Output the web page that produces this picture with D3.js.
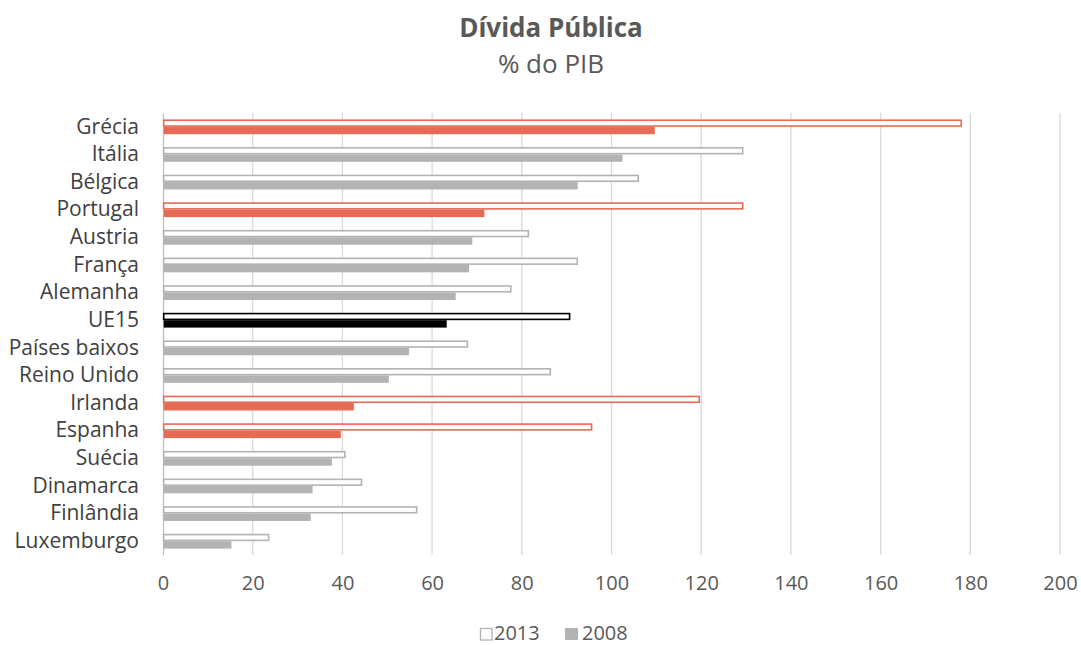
<!DOCTYPE html>
<html>
<head>
<meta charset="utf-8">
<script src="https://cdn.jsdelivr.net/npm/d3@7"></script>
<style>
  body { margin: 0; background: #fff; overflow: hidden; }
  svg { font-family: "Open Sans", "Noto Sans", sans-serif; display: block; }
</style>
</head>
<body>
<svg id="chart"></svg>
<script>
// dados
const paises = ["Grécia", "Itália", "Bélgica", "Portugal", "Austria", "França", "Alemanha", "UE15",
    "Países baixos", "Reino Unido", "Irlanda", "Espanha", "Suécia", "Dinamarca", "Finlândia", "Luxemburgo"];
const divida2013 = [177.8, 129.1, 105.8, 129.1, 81.3, 92.2, 77.4, 90.5, 67.7, 86.2, 119.4, 95.4, 40.4, 44.1, 56.4, 23.4];
const divida2008 = [109.5, 102.3, 92.3, 71.5, 68.8, 68.1, 65.1, 63.1, 54.7, 50.2, 42.4, 39.5, 37.5, 33.2, 32.8, 15.1];
const ticksX = [0, 20, 40, 60, 80, 100, 120, 140, 160, 180, 200];
const paisesCrise = ["Grécia", "Portugal", "Irlanda", "Espanha"];
const media = "UE15";
const series = ["2013", "2008"];

const W = 1081, H = 645;
const margin = { top: 113, right: 21, bottom: 90, left: 163 };
const width = W - margin.left - margin.right;
const height = H - margin.top - margin.bottom;

const svg = d3.select("#chart").attr("width", W).attr("height", H);

const cinza = "#b3b3b3";
const vermelho = "#e76a55";
function corDe(p) {
    if (paisesCrise.includes(p)) return vermelho;
    if (p === media) return "#000000";
    return cinza;
}

// título
svg.append("text")
    .attr("x", 551).attr("y", 37)
    .attr("text-anchor", "middle")
    .style("font-size", "26px").style("font-weight", "bold")
    .style("fill", "#595959")
    .text("Dívida Pública");
svg.append("text")
    .attr("x", 551).attr("y", 73)
    .attr("text-anchor", "middle")
    .style("font-size", "26px")
    .style("fill", "#595959")
    .text("% do PIB");

const chart = svg.append("g").attr("transform", `translate(${margin.left},${margin.top})`);

const x = d3.scaleLinear().domain([0, 200]).range([0, width]);
const y = d3.scaleBand().domain(paises).range([0, height]);
const barH = 7.4;
const y2 = d3.scaleBand().domain(series).range([y.bandwidth() / 2 - barH, y.bandwidth() / 2 + barH]);

// grelha
chart.append("g")
    .selectAll("line")
    .data(ticksX.slice(1))
    .join("line")
    .attr("x1", d => x(d)).attr("x2", d => x(d))
    .attr("y1", 0).attr("y2", height)
    .attr("stroke", "#d9d9d9").attr("stroke-width", 1.3);

// eixo x (só rótulos)
const eixoX = chart.append("g")
    .attr("transform", `translate(0,${height})`)
    .call(d3.axisBottom(x).tickValues(ticksX).tickSize(0).tickPadding(21));
eixoX.select(".domain").remove();
eixoX.selectAll("text")
    .style("font-size", "20px")
    .style("font-family", "'Open Sans', sans-serif")
    .style("fill", "#595959");

// eixo y
const eixoY = chart.append("g")
    .call(d3.axisLeft(y).tickSize(0).tickPadding(24));
eixoY.select(".domain").attr("stroke", "#bfbfbf").attr("stroke-width", 1.3);
eixoY.selectAll("text")
    .style("font-size", "21px")
    .style("font-family", "'Open Sans', sans-serif")
    .style("fill", "#404040");

// barras 2008 (preenchidas)
chart.selectAll(".b2008")
    .data(paises)
    .join("rect")
    .attr("class", "b2008")
    .attr("x", x(0) + 0.7)
    .attr("y", (d) => y(d) + y2("2008"))
    .attr("width", (d, i) => x(divida2008[i]) - x(0))
    .attr("height", y2.bandwidth())
    .attr("fill", d => corDe(d));

// barras 2013 (contorno)
chart.selectAll(".b2013")
    .data(paises)
    .join("rect")
    .attr("class", "b2013")
    .attr("x", x(0) + 0.7)
    .attr("y", (d) => y(d) + y2("2013") + 0.8)
    .attr("width", (d, i) => x(divida2013[i]) - x(0))
    .attr("height", y2.bandwidth() - 1.6)
    .attr("fill", "#fff")
    .attr("stroke", d => corDe(d))
    .attr("stroke-width", 1.6);

// legenda
const leg = svg.append("g").attr("transform", "translate(0,640)");
leg.append("rect").attr("x", 480.5).attr("y", -11.5).attr("width", 11.5).attr("height", 11.5)
    .attr("fill", "#fff").attr("stroke", cinza).attr("stroke-width", 1.3);
leg.append("text").attr("x", 494).attr("y", 0)
    .style("font-size", "20px").style("fill", "#595959").text("2013");
leg.append("rect").attr("x", 565).attr("y", -12).attr("width", 13).attr("height", 12)
    .attr("fill", cinza);
leg.append("text").attr("x", 582).attr("y", 0)
    .style("font-size", "20px").style("fill", "#595959").text("2008");
</script>
</body>
</html>
